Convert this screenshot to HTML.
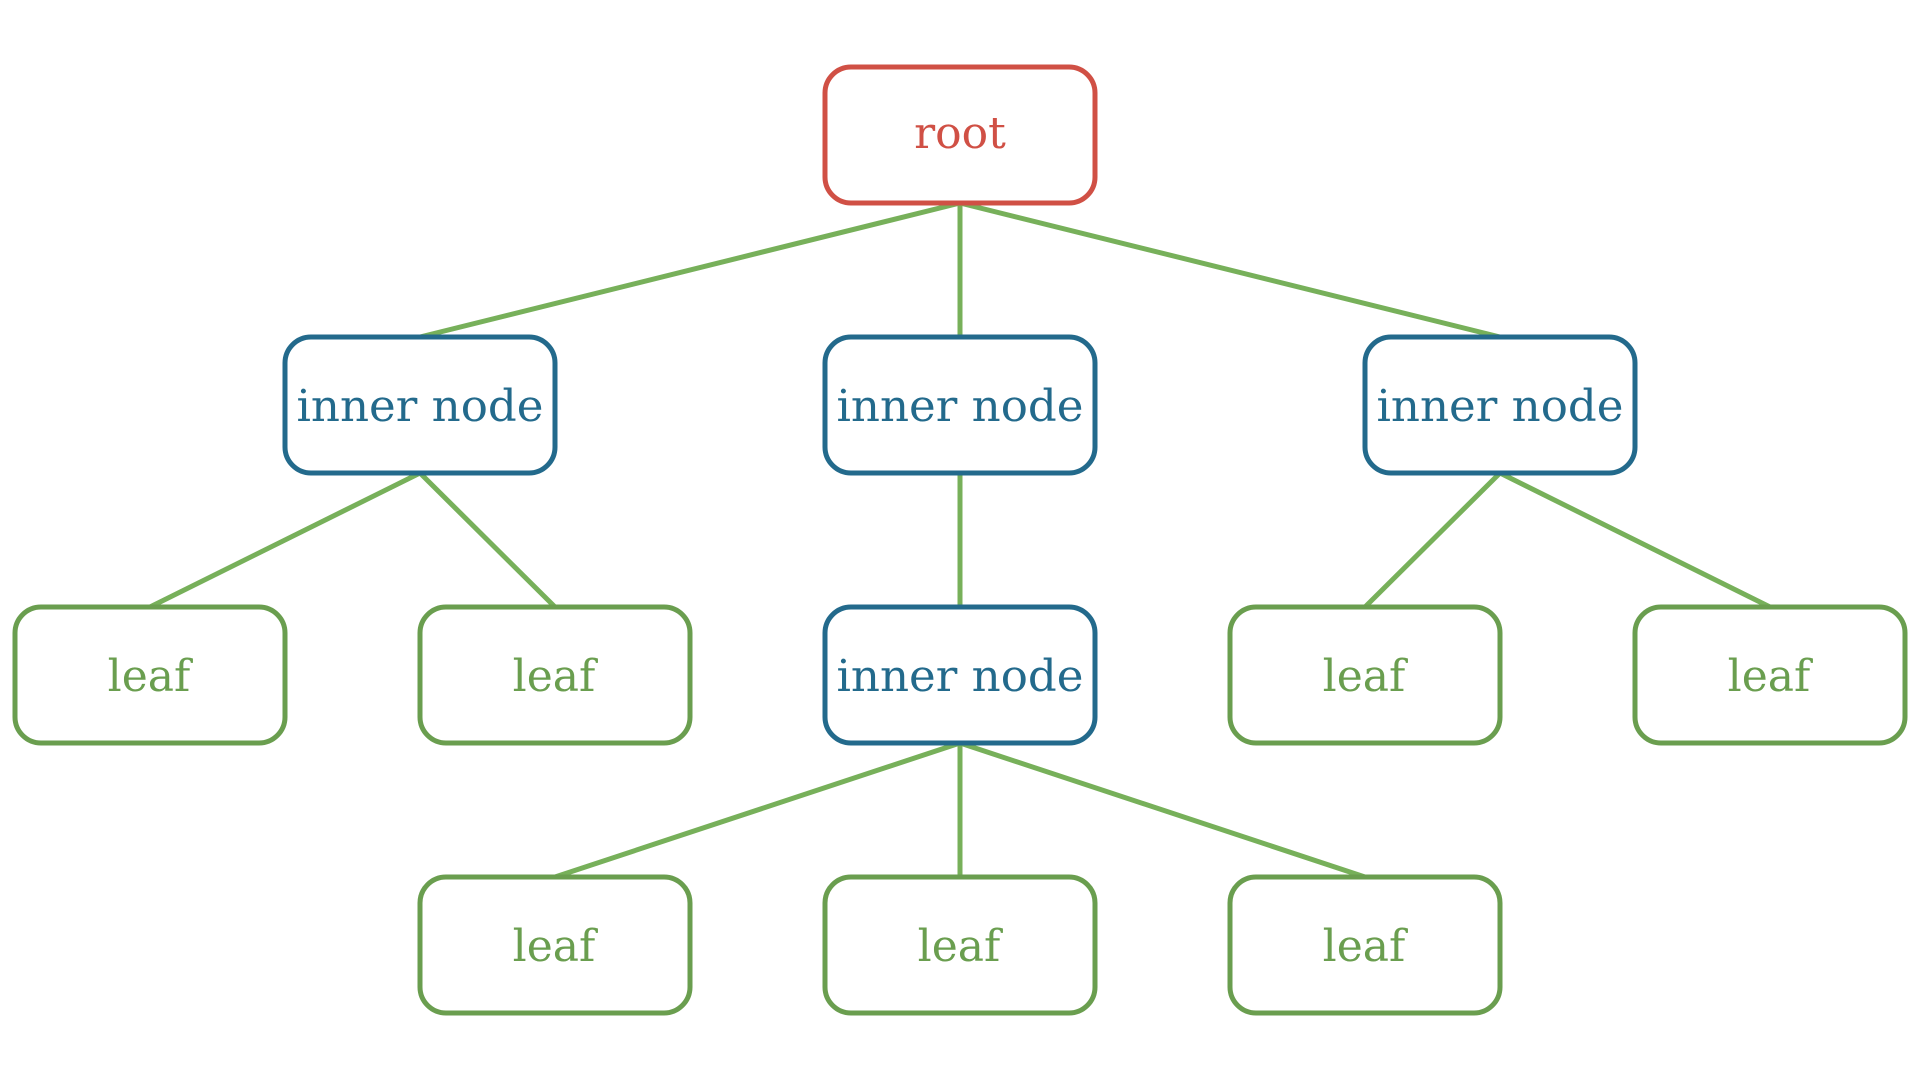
<!DOCTYPE html>
<html><head><meta charset="utf-8"><style>html,body{margin:0;padding:0;background:#fff;width:1920px;height:1080px;overflow:hidden}</style></head>
<body>
<svg width="1920" height="1080" xmlns="http://www.w3.org/2000/svg" font-family="'DejaVu Serif','Liberation Serif',serif" font-size="44" text-anchor="middle">
<g stroke="#77b05a" stroke-width="5" fill="none">
<line x1="960" y1="203" x2="420" y2="337"/>
<line x1="960" y1="203" x2="960" y2="337"/>
<line x1="960" y1="203" x2="1500" y2="337"/>
<line x1="420" y1="473" x2="150" y2="607"/>
<line x1="420" y1="473" x2="555" y2="607"/>
<line x1="960" y1="473" x2="960" y2="607"/>
<line x1="1500" y1="473" x2="1365" y2="607"/>
<line x1="1500" y1="473" x2="1770" y2="607"/>
<line x1="960" y1="743" x2="555" y2="877"/>
<line x1="960" y1="743" x2="960" y2="877"/>
<line x1="960" y1="743" x2="1365" y2="877"/>
</g>
<g fill="#fff" stroke-width="5">
<rect x="825" y="67" width="270" height="136" rx="26" stroke="#d05045"/>
<rect x="285" y="337" width="270" height="136" rx="26" stroke="#236a8c"/>
<rect x="825" y="337" width="270" height="136" rx="26" stroke="#236a8c"/>
<rect x="1365" y="337" width="270" height="136" rx="26" stroke="#236a8c"/>
<rect x="825" y="607" width="270" height="136" rx="26" stroke="#236a8c"/>
<rect x="15" y="607" width="270" height="136" rx="26" stroke="#6a9e4f"/>
<rect x="420" y="607" width="270" height="136" rx="26" stroke="#6a9e4f"/>
<rect x="1230" y="607" width="270" height="136" rx="26" stroke="#6a9e4f"/>
<rect x="1635" y="607" width="270" height="136" rx="26" stroke="#6a9e4f"/>
<rect x="420" y="877" width="270" height="136" rx="26" stroke="#6a9e4f"/>
<rect x="825" y="877" width="270" height="136" rx="26" stroke="#6a9e4f"/>
<rect x="1230" y="877" width="270" height="136" rx="26" stroke="#6a9e4f"/>
</g>
<text x="960" y="148" fill="#d05045">root</text>
<g fill="#236a8c">
<text x="420" y="421" textLength="247" lengthAdjust="spacingAndGlyphs">inner node</text>
<text x="960" y="421" textLength="247" lengthAdjust="spacingAndGlyphs">inner node</text>
<text x="1500" y="421" textLength="247" lengthAdjust="spacingAndGlyphs">inner node</text>
<text x="960" y="691" textLength="247" lengthAdjust="spacingAndGlyphs">inner node</text>
</g>
<g fill="#6a9e4f">
<text x="149" y="691">leaf</text>
<text x="554" y="691">leaf</text>
<text x="1364" y="691">leaf</text>
<text x="1769" y="691">leaf</text>
<text x="554" y="961">leaf</text>
<text x="959" y="961">leaf</text>
<text x="1364" y="961">leaf</text>
</g>
</svg>
</body></html>
